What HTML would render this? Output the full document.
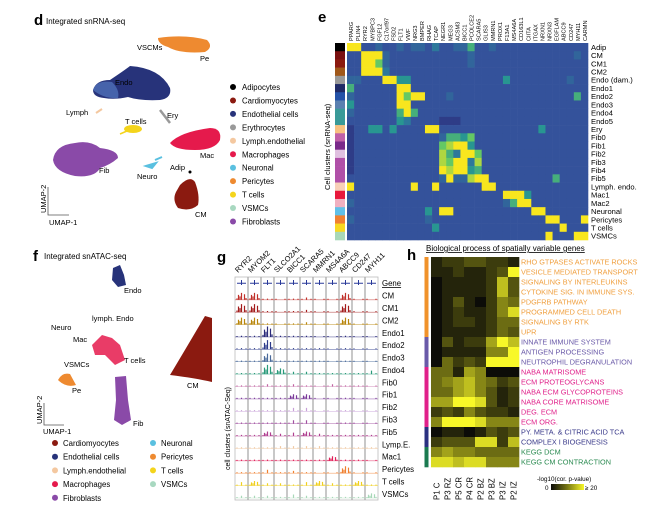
<!DOCTYPE html>
<html><head><meta charset="utf-8"><style>
body{margin:0;background:#fff}
svg{display:block;font-family:"Liberation Sans",sans-serif}
</style></head><body>
<svg id="fig" width="649" height="511" viewBox="0 0 649 511" xmlns="http://www.w3.org/2000/svg">
<g>
<text x="34" y="25" font-size="15" font-weight="bold">d</text>
<text x="46" y="24" font-size="8">Integrated snRNA-seq</text>
<path d="M158,38 Q185,34 207,40 Q214,47 205,52 Q180,54 168,47 Q158,44 158,38Z" fill="#ee8a30"/>
<path d="M93,90 Q96,80 110,80 Q125,70 130,66 Q160,68 170,88 Q172,98 160,100 Q140,101 128,97 Q115,100 104,98 Q93,97 93,90Z" fill="#27337a"/>
<path d="M93,90 Q96,80 112,82 Q120,90 118,98 Q104,99 93,90Z" fill="#4f6fb8" opacity="0.8"/>
<path d="M96,113 L102,109" stroke="#f4c8a0" stroke-width="2"/>
<path d="M160,110 L170,123" stroke="#999" stroke-width="2.5"/>
<ellipse cx="133" cy="129" rx="9" ry="4" fill="#f4d41c"/>
<path d="M120,134 L127,131" stroke="#f4d41c" stroke-width="1.5"/>
<path d="M170,143 Q180,132 210,128 Q222,128 220,140 Q215,150 195,150 Q175,150 170,143Z" fill="#e51a4c"/>
<path d="M53,160 Q55,145 75,143 Q90,140 100,148 Q118,150 118,158 Q110,165 100,168 Q95,178 75,176 Q55,172 53,160Z" fill="#8a4aa8"/>
<path d="M146,166 L156,163 L152,168Z M155,160 L162,157" stroke="#5ac0e0" stroke-width="2" fill="#5ac0e0"/>
<path d="M180,185 Q190,175 195,182 Q200,195 198,205 Q190,212 178,208 Q172,200 176,192Z" fill="#8b1a10"/>
<circle cx="190" cy="172" r="1.5" fill="#000"/>
<g font-size="7.5">
<text x="137" y="50">VSCMs</text><text x="200" y="61">Pe</text><text x="115" y="85">Endo</text>
<text x="66" y="115">Lymph</text><text x="167" y="118">Ery</text><text x="125" y="124">T cells</text>
<text x="200" y="158">Mac</text><text x="99" y="173">Fib</text><text x="137" y="179">Neuro</text>
<text x="170" y="170">Adip</text><text x="195" y="217">CM</text>
</g>
<path d="M48,187 L48,215 L69,215" stroke="#555" stroke-width="0.8" fill="none"/>
<text transform="translate(46,213) rotate(-90)" font-size="7.5">UMAP-2</text>
<text x="49" y="225" font-size="7.5">UMAP-1</text>
<g id="legD"></g>
</g>
<g>
<text x="318" y="22" font-size="15" font-weight="bold">e</text>
<text transform="translate(330,190) rotate(-90)" font-size="7.5">Cell clusters (snRNA-seq)</text>
<g id="heatE"></g>
</g>
<g>
<text x="33" y="261" font-size="15" font-weight="bold">f</text>
<text x="44" y="259" font-size="8">Integrated snATAC-seq</text>
<path d="M113,268 L120,265 L124,275 L126,285 L118,287 L112,280Z" fill="#27337a"/>
<path d="M92,345 L102,335 L112,338 L120,345 L125,360 L115,365 L105,355 L95,355Z" fill="#e51a4c" opacity="0.85"/>
<path d="M170,375 Q185,350 205,316 L212,318 L212,382 Q195,378 170,375Z" fill="#8b1a10"/>
<path d="M58,380 Q62,372 70,374 L76,385 Q66,388 58,380Z" fill="#ee8a30"/>
<path d="M115,377 L126,376 L128,400 L131,420 L122,425 L114,420 L116,400Z" fill="#8a4aa8"/>
<g font-size="7.5">
<text x="124" y="293">Endo</text><text x="92" y="321">lymph. Endo</text><text x="51" y="330">Neuro</text>
<text x="73" y="342">Mac</text><text x="124" y="363">T cells</text><text x="64" y="367">VSMCs</text>
<text x="72" y="393">Pe</text><text x="187" y="388">CM</text><text x="133" y="426">Fib</text>
</g>
<path d="M44,403 L44,425 L64,425" stroke="#555" stroke-width="0.8" fill="none"/>
<text transform="translate(42,424) rotate(-90)" font-size="7.5">UMAP-2</text>
<text x="43" y="434" font-size="7.5">UMAP-1</text>
<g id="legF"></g>
</g>
<g>
<text x="217" y="262" font-size="15" font-weight="bold">g</text>
<text transform="translate(230,470) rotate(-90)" font-size="7">cell clusters (snATAC-Seq)</text>
<g id="tracks"></g>
</g>
<g>
<text x="407" y="260" font-size="15" font-weight="bold">h</text>
<text x="426" y="251" font-size="8" text-decoration="underline">Biological process of spatially variable genes</text>
<g id="heatH"></g>
</g>
</svg>
<script>
const NS="http://www.w3.org/2000/svg";
function mk(p,t,a){const e=document.createElementNS(NS,t);for(const k in a)e.setAttribute(k,a[k]);p.appendChild(e);return e;}

const legDLabels=["Adipocytes","Cardiomyocytes","Endothelial cells","Erythrocytes","Lymph.endothelial","Macrophages","Neuronal","Pericytes","T cells","VSMCs","Fibroblasts"];
const legDColors=["#000","#8b1a10","#27337a","#999","#f4c8a0","#e51a4c","#5ac0e0","#ee8a30","#f4d41c","#a8d8c0","#8a4aa8"];
const legD=document.getElementById('legD');
legDLabels.forEach((l,i)=>{const y=87+i*13.45;
 const c=mk(legD,'circle',{cx:233,cy:y,r:3,fill:legDColors[i]});
 
 
 const t=mk(legD,'text',{x:242,y:y+3,'font-size':7.8});t.textContent=l;
 
 });

const legFLabels=["Cardiomyocytes","Endothelial cells","Lymph.endothelial","Macrophages","Fibroblasts","Neuronal","Pericytes","T cells","VSMCs"];
const legFColors=["#8b1a10","#27337a","#f4c8a0","#e51a4c","#8a4aa8","#5ac0e0","#ee8a30","#f4d41c","#a8d8c0"];
const legF=document.getElementById('legF');
legFLabels.forEach((l,i)=>{const col=i<5?0:1,r=i<5?i:i-5;const x=col?153:55,y=443+r*13.7;
 const c=mk(legF,'circle',{cx:x,cy:y,r:3,fill:legFColors[i]});
 
 
 const t=mk(legF,'text',{x:x+8,y:y+3,'font-size':7.8});t.textContent=l;
 
 });

const eGenes=["PPARG","PLIN4","RYR2","MYBPC3","FGF12","C17orf97","FSD2","FLT1","VWF","NRG3","BMPER","RHAG","TCAP","NEGR1","MEG3","ACSM3","BICC1","PCOLCE2","SCARA5","GLIS3","MMRN1","PROX1","F13A1","MS4A6A","CD163L1","CIITA","ITGAX","NRXN1","NRXN3","EGFLAM","ABCC9","CD247","MYH11","CARMN"];
const eClusters=["Adip","CM","CM1","CM2","Endo (dam.)","Endo1","Endo2","Endo3","Endo4","Endo5","Ery","Fib0","Fib1","Fib2","Fib3","Fib4","Fib5","Lymph. endo.","Mac1","Mac2","Neuronal","Pericytes","T cells","VSMCs"];
const eClusterColors=["#000","#7a1010","#8b1a10","#a0581a","#999","#1f2a66","#2452a8","#5a80b0","#3a9a98","#3a9a98","#f8c080","#c060a8","#7a2a8a","#e0c0e0","#b050a8","#b050a8","#b050a8","#f8d0b8","#e8183c","#f0b0c0","#60c0e8","#f08030","#f8d820","#a8d8b8"];
const eValues=[
"9922322323324223362232222222222222",
"2299932222222222232222222222222232",
"2299732222222222232222222222222222",
"2299942222222222222222222222222222",
"3322299552222222222222522222222322",
"6222222992222222222222222222222222",
"3222222979922232222222222222222262",
"5222222992222222222222222222222222",
"3222222696222222222222222222222222",
"2222222542222111222222222222222222",
"1225525222299222222222222225222222",
"1222222222222366572222222222222222",
"1222222222222789952222222222222222",
"1222222222222864997222222222222222",
"1222222222222879948222222222222222",
"1222222222222989956222222222222222",
"2222222222222393389922222222262222",
"9222222229229222222992222222222222",
"2222222222222222222222999522222222",
"3222222222222222222222369922222222",
"2222222222252992222222222299222222",
"3222222222232222222222222222992229",
"2222222222225222222222222222229222",
"2222222222222222222222222222922299"];
const eStops=[[0,[40,38,115]],[2,[52,82,155]],[4,[45,120,155]],[5,[40,150,145]],[7,[100,200,100]],[9,[248,230,30]]];
function eColor(v){for(let i=1;i<eStops.length;i++){if(v<=eStops[i][0]){const a=eStops[i-1],b=eStops[i],t=(v-a[0])/(b[0]-a[0]);return 'rgb('+a[1].map((c,k)=>Math.round(c+(b[1][k]-c)*t)).join(',')+')';}}return 'rgb(248,230,30)';}
const eX0=347,eX1=588,eY0=43,eY1=240;
const eCW=(eX1-eX0)/eGenes.length,eRH=(eY1-eY0)/eClusters.length;
const xE=c=>eX0+c*eCW, yE=r=>eY0+r*eRH;
const heatE=document.getElementById('heatE');
eClusters.forEach((cl,r)=>{
 const row=eValues[r];
 for(let c=0;c<eGenes.length;c++){const v=+row[c];
  const rc=mk(heatE,'rect',{x:xE(c),y:yE(r),width:eCW+0.3,height:eRH+0.3,fill:eColor(v)});
  
  }
 const sw=mk(heatE,'rect',{x:335,y:yE(r),width:10,height:eRH+0.3,fill:eClusterColors[r]});
 
 
 const t=mk(heatE,'text',{x:591,y:yE(r)+eRH/2+2.8,'font-size':7.6});t.textContent=cl;
 
 
});
eGenes.forEach((g,c)=>{const x=xE(c)+eCW/2+2.5;
 const t=mk(heatE,'text',{transform:`translate(${x},41) rotate(-90)`,'font-size':5.6});t.textContent=g;
 
 });

const gGenes=["RYR2","MYOM2","FLT1","SLCO2A1","BICC1","SCARA5","MMRN1","MS4A6A","ABCC9","CD247","MYH11"];
const gClusters=["CM","CM1","CM2","Endo1","Endo2","Endo3","Endo4","Fib0","Fib1","Fib2","Fib3","Fib5","Lymp.E.","Mac1","Pericytes","T cells","VSMCs"];
const gColors=["#c0302a","#a31c1c","#b8860b","#2a2a7a","#2c3a8a","#4a6a9a","#2a9a7a","#c060a0","#7a3a9a","#c8a0d8","#a050a0","#b04090","#f0c8a0","#e0205a","#f08030","#f0d020","#a8d8b8"];
const gPeaks=[
[6,6,1,0,1,2,0,0,6,0,0],[7,7,1,0,1,2,0,0,7,0,0],[6,6,1,0,1,2,0,0,6,0,0],
[1,1,9,1,1,1,0,0,1,0,0],[1,1,8,1,1,1,1,0,1,0,0],[1,1,7,1,1,1,1,0,1,0,0],[1,1,8,5,2,2,1,1,1,1,3],
[1,1,2,1,2,1,0,2,1,1,0],[1,1,1,1,4,4,0,0,1,0,0],[1,1,1,1,3,3,0,0,1,0,0],[1,1,1,1,3,3,0,0,1,0,0],
[1,1,4,2,3,4,2,1,1,1,1],[1,1,1,2,2,2,2,1,1,1,1],[1,1,1,1,1,1,1,4,1,1,0],[1,1,3,1,2,1,0,0,6,0,0],
[3,4,2,2,1,3,4,2,1,4,1],[2,2,2,1,3,2,1,1,1,1,4]];
const gX0=235,gX1=378,gY0=277,gY1=500;
const gCW=(gX1-gX0)/gGenes.length,gRH=(gY1-gY0)/(gClusters.length+1);
const xG=c=>gX0+c*gCW, yG=r=>gY0+(r+1)*gRH;
const tr=document.getElementById('tracks');
mk(tr,'rect',{x:gX0,y:gY0,width:gX1-gX0,height:gY1-gY0,fill:'none',stroke:'#bbb','stroke-width':0.8});
gGenes.forEach((g,c)=>{
 if(c>0)mk(tr,'line',{x1:xG(c),x2:xG(c),y1:gY0,y2:gY1,stroke:'#aaa','stroke-width':1.3});
 const gm=mk(tr,'path',{d:`M${xG(c)+2},${gY0+gRH/2} h${gCW-4} M${xG(c)+gCW/2},${gY0+3} v5`,stroke:'#2a3a9a','stroke-width':1,fill:'none'});
 
 
 const t=mk(tr,'text',{transform:`translate(${xG(c)+3},${gY0-4}) rotate(-45)`,'font-size':7.5});t.textContent=g;
 
 
});
const gh=mk(tr,'text',{x:382,y:gY0+gRH/2+3,'font-size':7.8,'text-decoration':'underline'});gh.textContent='Gene';


gClusters.forEach((cl,r)=>{
 const base=yG(r)+gRH-2;
 mk(tr,'line',{x1:gX0,x2:gX1,y1:base,y2:base,stroke:gColors[r],'stroke-width':0.6,opacity:0.7});
 gGenes.forEach((g,c)=>{const v=gPeaks[r][c];
  const h=v/9*(gRH-2);const cx=xG(c)+gCW/2;
  let d=`M${cx},${base} v${-h}`;
  if(v>3){d+=` M${cx-3},${base} v${-h*0.7} M${cx+3},${base} v${-h*0.8} M${cx-1.5},${base} v${-h*0.5}`;}
  d+=` M${cx-4.5},${base} v${-Math.max(1,h*0.2)} M${cx+4.5},${base} v${-Math.max(1,h*0.25)}`;
  const p=mk(tr,'path',{d:d,stroke:gColors[r],'stroke-width':1.2,fill:'none'});
  
  });
 const t=mk(tr,'text',{x:382,y:yG(r)+gRH/2+3,'font-size':7.8});t.textContent=cl;
 
 
});

const hSamples=["P1 C","P3 RZ","P5 CR","P4 CR","P2 BZ","P3 BZ","P3 IZ","P2 IZ"];
const hTerms=["RHO GTPASES ACTIVATE ROCKS","VESICLE MEDIATED TRANSPORT","SIGNALING BY INTERLEUKINS","CYTOKINE SIG. IN IMMUNE SYS.","PDGFRB PATHWAY","PROGRAMMED CELL DEATH","SIGNALING BY RTK","UPR","INNATE IMMUNE SYSTEM","ANTIGEN PROCESSING","NEUTROPHIL DEGRANULATION","NABA MATRISOME","ECM PROTEOGLYCANS","NABA ECM GLYCOPROTEINS","NABA CORE MATRISOME","DEG. ECM","ECM ORG.","PY. META. & CITRIC ACID TCA","COMPLEX I BIOGENESIS","KEGG DCM","KEGG CM CONTRACTION"];
const hGroups=[0,0,0,0,0,0,0,0,1,1,1,2,2,2,2,2,2,3,3,4,4];
const hGroupColors=["#f0922a","#6a5aa8","#e0208a","#2a3080","#1a7a50"];
const hTextColors=["#f0a040","#6a5aa8","#e0208a","#3a3a8a","#2a8a50"];
const hValues=[
[1,2,2,3,3,2,2,1],[1,1,2,1,1,2,3,9],[0,1,1,1,1,2,7,3],[0,1,1,1,1,2,7,3],
[0,1,3,1,0,2,5,4],[0,1,2,1,1,2,5,8],[0,1,2,2,1,2,4,4],[0,1,1,1,1,2,4,3],
[0,3,1,2,2,6,9,7],[0,1,1,1,1,5,5,9],[0,4,2,3,2,9,9,9],
[4,4,1,6,5,0,0,0],[4,5,6,7,5,4,2,3],[4,4,6,7,5,3,1,2],[6,6,9,9,8,3,1,2],[2,3,2,5,3,2,2,1],[5,9,9,9,8,5,5,5],
[0,1,1,0,1,3,2,3],[2,3,3,3,8,8,2,7],[5,6,5,5,4,4,4,4],[8,8,7,8,8,5,5,5]];
function hColor(v){const t=v/9;const a=[12,12,8],m=[120,120,20],b=[248,248,40];
 const c=t<0.5?a.map((x,k)=>x+(m[k]-x)*t*2):m.map((x,k)=>x+(b[k]-x)*(t-0.5)*2);return 'rgb('+c.map(Math.round).join(',')+')';}
const hX0=431,hX1=519,hY0=257,hY1=467;
const hCW=(hX1-hX0)/hSamples.length,hRH=(hY1-hY0)/hTerms.length;
const xH=c=>hX0+c*hCW,yH=r=>hY0+r*hRH;
const heatH=document.getElementById('heatH');
hTerms.forEach((term,r)=>{
 hValues[r].forEach((v,c)=>{const rc=mk(heatH,'rect',{x:xH(c),y:yH(r),width:hCW+0.3,height:hRH+0.3,fill:hColor(v)});
  
  });
 const s=mk(heatH,'rect',{x:424.5,y:yH(r),width:4,height:hRH+0.3,fill:hGroupColors[hGroups[r]]});
 
 
 const t=mk(heatH,'text',{x:521,y:yH(r)+hRH/2+2.6,'font-size':7.3,fill:hTextColors[hGroups[r]]});t.textContent=term;
 
 
});
hSamples.forEach((s,c)=>{const t=mk(heatH,'text',{transform:`translate(${xH(c)+hCW/2+3},500) rotate(-90)`,'font-size':7.8});t.textContent=s;
 
 });
const defs=mk(document.getElementById('fig'),'defs',{});
const lg=mk(defs,'linearGradient',{id:'hg',x1:0,x2:1,y1:0,y2:0});
mk(lg,'stop',{offset:0,'stop-color':'#0c0c08'});mk(lg,'stop',{offset:0.5,'stop-color':'#787814'});mk(lg,'stop',{offset:1,'stop-color':'#f8f828'});
const cbT=mk(heatH,'text',{x:537,y:481,'font-size':6.3});cbT.textContent='-log10(cor. p-value)';


const cb=mk(heatH,'rect',{x:551,y:484,width:33,height:6,fill:'url(#hg)'});


const c0=mk(heatH,'text',{x:545,y:490,'font-size':6.3});c0.textContent='0';


const c1=mk(heatH,'text',{x:585,y:490,'font-size':6.3});c1.textContent='≥ 20';


</script>
</body></html>
